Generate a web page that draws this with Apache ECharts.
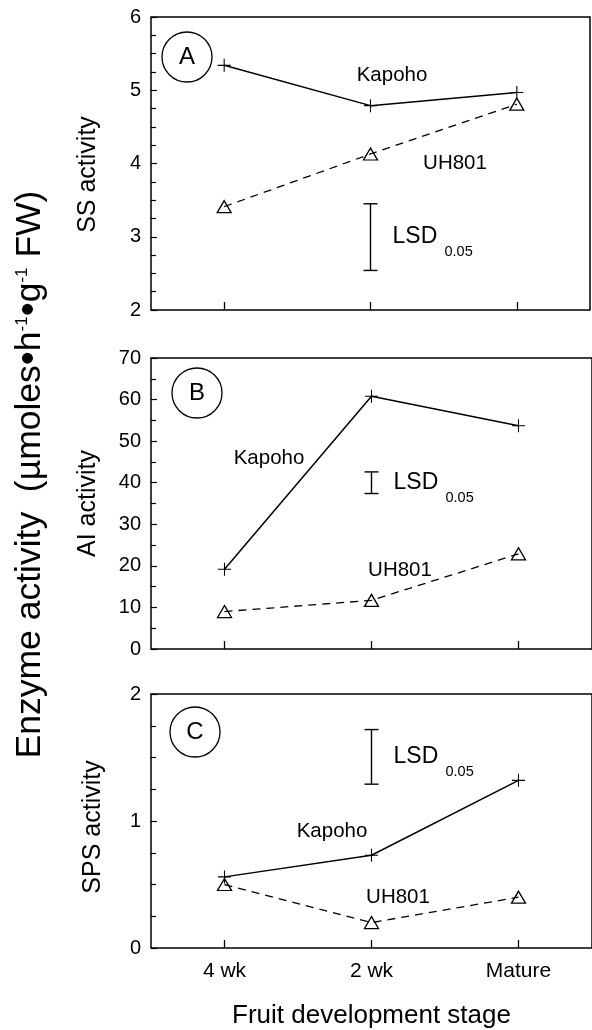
<!DOCTYPE html>
<html>
<head>
<meta charset="utf-8">
<script src="https://cdn.jsdelivr.net/npm/echarts@6/dist/echarts.min.js"></script>
<style>
html,body{margin:0;padding:0;background:#fff;}
#chart{width:592px;height:1030px;}
</style>
</head>
<body>
<div id="chart"></div>
<script>
// ---- data ----
const categories = ['4 wk', '2 wk', 'Mature'];
const ssKapoho = [5.34, 4.79, 4.97];
const ssUH801 = [3.41, 4.13, 4.81];
const aiKapoho = [19.2, 60.8, 53.7];
const aiUH801 = [9.0, 11.7, 22.9];
const spsKapoho = [0.56, 0.73, 1.32];
const spsUH801 = [0.50, 0.20, 0.40];
const lsdSS = [2.54, 3.45];
const lsdAI = [37.4, 42.6];
const lsdSPS = [1.29, 1.72];
const lsdCategory = '2 wk';
const panelLetters = ['A', 'B', 'C'];
const yNames = ['SS activity', 'AI activity', 'SPS activity'];
const xName = 'Fruit development stage';

// ---- styling ----
const FONT = '"Liberation Sans", Arial, Helvetica, sans-serif';
const BLACK = '#000';
const plusPath = 'path://M0,11h24v2h-24z M11,0h2v24h-2z';

const grids = [
  {left: 151, top: 17, width: 439, height: 293},
  {left: 151, top: 358, width: 443, height: 291},
  {left: 151, top: 694, width: 442, height: 255}
].map(g => Object.assign(g, {show: true, borderColor: BLACK, borderWidth: 1.5, backgroundColor: 'transparent'}));

const yRanges = [
  {min: 2, max: 6, interval: 1, split: 4},
  {min: 0, max: 70, interval: 10, split: 2},
  {min: 0, max: 2, interval: 1, split: 4}
];
const nameShift = [[50, 22], [50, 0], [45, 12]];

const xAxes = [0, 1, 2].map(i => ({
  type: 'category', gridIndex: i, data: categories, boundaryGap: true,
  axisLine: {show: false},
  axisTick: {show: true, inside: true, alignWithLabel: true, length: 8, lineStyle: {color: BLACK, width: 1.3}},
  axisLabel: {show: i === 2, color: BLACK, fontSize: 21, fontFamily: FONT, margin: 13},
  splitLine: {show: false},
  name: i === 2 ? xName : '',
  nameLocation: 'middle', nameGap: 55,
  nameTextStyle: {color: BLACK, fontSize: 26, fontFamily: FONT}
}));

const yAxes = [0, 1, 2].map(i => ({
  type: 'value', gridIndex: i,
  min: yRanges[i].min, max: yRanges[i].max, interval: yRanges[i].interval,
  axisLine: {show: false},
  axisTick: {show: true, inside: true, length: 6, lineStyle: {color: BLACK, width: 1.2}},
  minorTick: {show: true, splitNumber: yRanges[i].split, length: 5, lineStyle: {color: BLACK, width: 1.2}},
  axisLabel: {color: BLACK, fontSize: 20, fontFamily: FONT, margin: 10},
  splitLine: {show: false},
  name: yNames[i], nameLocation: 'middle', nameGap: nameShift[i][0],
  nameTextStyle: {color: BLACK, fontSize: 25, fontFamily: FONT, padding: [0, nameShift[i][1], 0, 0]}
}));

function kapohoSeries(data, idx) {
  return {
    type: 'line', name: 'Kapoho', xAxisIndex: idx, yAxisIndex: idx, data: data,
    symbol: plusPath, symbolSize: 13, z: 3,
    itemStyle: {color: BLACK},
    lineStyle: {color: BLACK, width: 1.5, type: 'solid'}
  };
}
function uhSeries(data, idx) {
  return {
    type: 'line', name: 'UH801', xAxisIndex: idx, yAxisIndex: idx, data: data,
    symbol: 'triangle', symbolSize: [14, 12], z: 2,
    itemStyle: {color: 'rgba(255,255,255,0)', borderColor: BLACK, borderWidth: 1.3},
    lineStyle: {color: BLACK, width: 1.3, type: [8, 6]}
  };
}
function lsdSeries(range, idx) {
  return {
    type: 'custom', xAxisIndex: idx, yAxisIndex: idx,
    data: [[categories.indexOf(lsdCategory), range[0], range[1]]],
    renderItem: function (params, api) {
      const lo = api.coord([api.value(0), api.value(1)]);
      const hi = api.coord([api.value(0), api.value(2)]);
      const x = lo[0], cap = 7, mid = (lo[1] + hi[1]) / 2;
      const ls = {stroke: BLACK, lineWidth: 1.4};
      return {type: 'group', children: [
        {type: 'line', shape: {x1: x, y1: lo[1], x2: x, y2: hi[1]}, style: ls},
        {type: 'line', shape: {x1: x - cap, y1: lo[1], x2: x + cap, y2: lo[1]}, style: ls},
        {type: 'line', shape: {x1: x - cap, y1: hi[1], x2: x + cap, y2: hi[1]}, style: ls},
        {type: 'text', x: x + 22, y: mid, style: {text: 'LSD', fill: BLACK, fontSize: 23, fontFamily: FONT, align: 'left', verticalAlign: 'middle'}},
        {type: 'text', x: x + 74, y: mid + 15, style: {text: '0.05', fill: BLACK, fontSize: 14.5, fontFamily: FONT, align: 'left', verticalAlign: 'middle'}}
      ]};
    }
  };
}

function txt(x, y, s, size) {
  return {type: 'text', x: x, y: y, style: {text: s, fill: BLACK, fontSize: size, fontFamily: FONT, align: 'center', verticalAlign: 'middle'}};
}
function circleLabel(cx, cy, letter) {
  return {type: 'group', children: [
    {type: 'circle', shape: {cx: cx, cy: cy, r: 25}, style: {fill: '#fff', stroke: BLACK, lineWidth: 1.3}},
    {type: 'text', x: cx, y: cy, style: {text: letter, fill: BLACK, fontSize: 24, fontFamily: FONT, align: 'center', verticalAlign: 'middle'}}
  ]};
}

const option = {
  backgroundColor: '#fff',
  animation: false,
  grid: grids,
  xAxis: xAxes,
  yAxis: yAxes,
  series: [
    uhSeries(ssUH801, 0), kapohoSeries(ssKapoho, 0), lsdSeries(lsdSS, 0),
    uhSeries(aiUH801, 1), kapohoSeries(aiKapoho, 1), lsdSeries(lsdAI, 1),
    uhSeries(spsUH801, 2), kapohoSeries(spsKapoho, 2), lsdSeries(lsdSPS, 2)
  ],
  graphic: [
    circleLabel(187, 57, panelLetters[0]),
    circleLabel(197, 393, panelLetters[1]),
    circleLabel(195, 732, panelLetters[2]),
    txt(392, 75, 'Kapoho', 20.5), txt(455, 163, 'UH801', 20.5),
    txt(269, 458, 'Kapoho', 20.5), txt(400, 570, 'UH801', 20.5),
    txt(332, 831, 'Kapoho', 20.5), txt(398, 897, 'UH801', 20.5),
    {
      type: 'text', x: 30, y: 474.5, rotation: Math.PI / 2,
      style: {
        text: '{m|Enzyme activity  (µmoles}{d|•}{m|h}{s|-1}{d|•}{m|g}{s|-1}{m| FW)}',
        align: 'center', verticalAlign: 'middle', fill: BLACK,
        rich: {
          m: {fontSize: 35.5, lineHeight: 36, fontFamily: FONT, fill: BLACK, verticalAlign: 'middle'},
          d: {fontSize: 40, lineHeight: 36, fontFamily: FONT, fill: BLACK, verticalAlign: 'middle'},
          s: {fontSize: 17, lineHeight: 17, fontFamily: FONT, fill: BLACK, verticalAlign: 'top', padding: [2, 0, 0, 0]}
        }
      }
    }
  ]
};

const chart = echarts.init(document.getElementById('chart'), null, {renderer: 'canvas'});
chart.setOption(option);
</script>
</body>
</html>
